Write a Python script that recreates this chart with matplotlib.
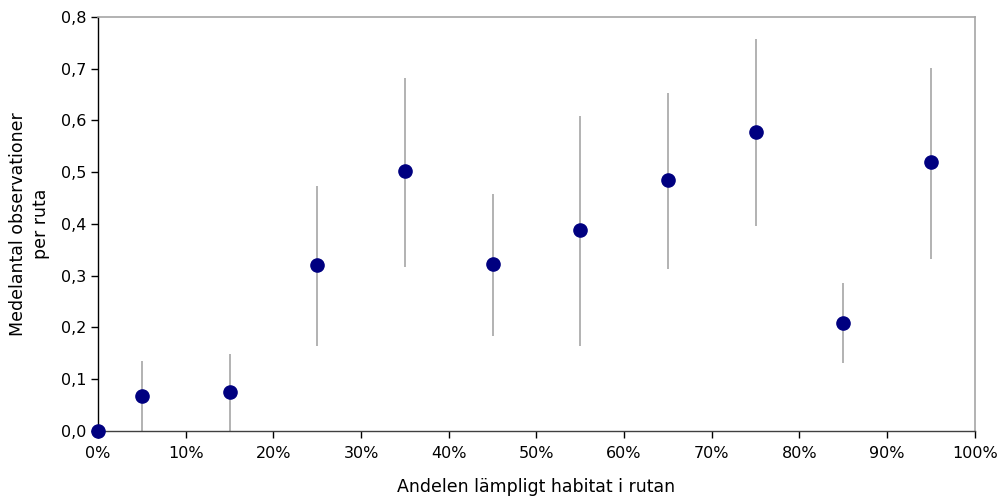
import matplotlib
matplotlib.use("Agg")
import matplotlib.pyplot as plt
from matplotlib.ticker import FuncFormatter, MultipleLocator

x_pct = [0, 5, 15, 25, 35, 45, 55, 65, 75, 85, 95]
means = [0.0, 0.067, 0.075, 0.320, 0.502, 0.322, 0.388, 0.485, 0.577, 0.209, 0.519]
upper = [0.0, 0.135, 0.149, 0.473, 0.682, 0.458, 0.608, 0.653, 0.757, 0.286, 0.701]
lower = [0.0, 0.0, 0.0, 0.164, 0.317, 0.184, 0.165, 0.313, 0.396, 0.131, 0.332]

x = [v / 100 for v in x_pct]
err_lo = [m - l for m, l in zip(means, lower)]
err_hi = [u - m for m, u in zip(means, upper)]

plt.rcParams['font.family'] = ['DejaVu Sans']
fig = plt.figure(figsize=(9.98, 4.98), dpi=100)
ax = fig.add_axes([0.0982, 0.1345, 0.9768 - 0.0982, 0.966 - 0.1345])

ax.errorbar(x, means, yerr=[err_lo, err_hi], fmt='none', ecolor='#a6a6a6',
            elinewidth=1.2, capsize=0, zorder=2, clip_on=False)
ax.plot(x, means, 'o', color='#000080', markersize=9.5, zorder=3, clip_on=False)

ax.set_xlim(0, 1)
ax.set_ylim(0, 0.8)
ax.xaxis.set_major_locator(MultipleLocator(0.1))
ax.yaxis.set_major_locator(MultipleLocator(0.1))
ax.xaxis.set_major_formatter(FuncFormatter(lambda v, p: f"{v*100:.0f}%"))
ax.yaxis.set_major_formatter(FuncFormatter(lambda v, p: f"{v:.1f}".replace('.', ',')))

for s in ['top', 'right']:
    ax.spines[s].set_color('#a6a6a6')
    ax.spines[s].set_linewidth(1.2)
ax.spines['left'].set_color('black')
ax.spines['bottom'].set_color('#404040')
ax.spines['left'].set_linewidth(1.0)
ax.spines['bottom'].set_linewidth(1.0)
ax.tick_params(axis='both', direction='out', length=5, width=1, labelsize=11.5, colors='black')
ax.tick_params(axis='x', pad=6)

ax.set_xlabel('Andelen lämpligt habitat i rutan', fontsize=12.5, labelpad=12)
ax.set_ylabel('Medelantal observationer\nper ruta', fontsize=12.5, labelpad=8, linespacing=1.35)

fig.savefig('out.png', dpi=100)
